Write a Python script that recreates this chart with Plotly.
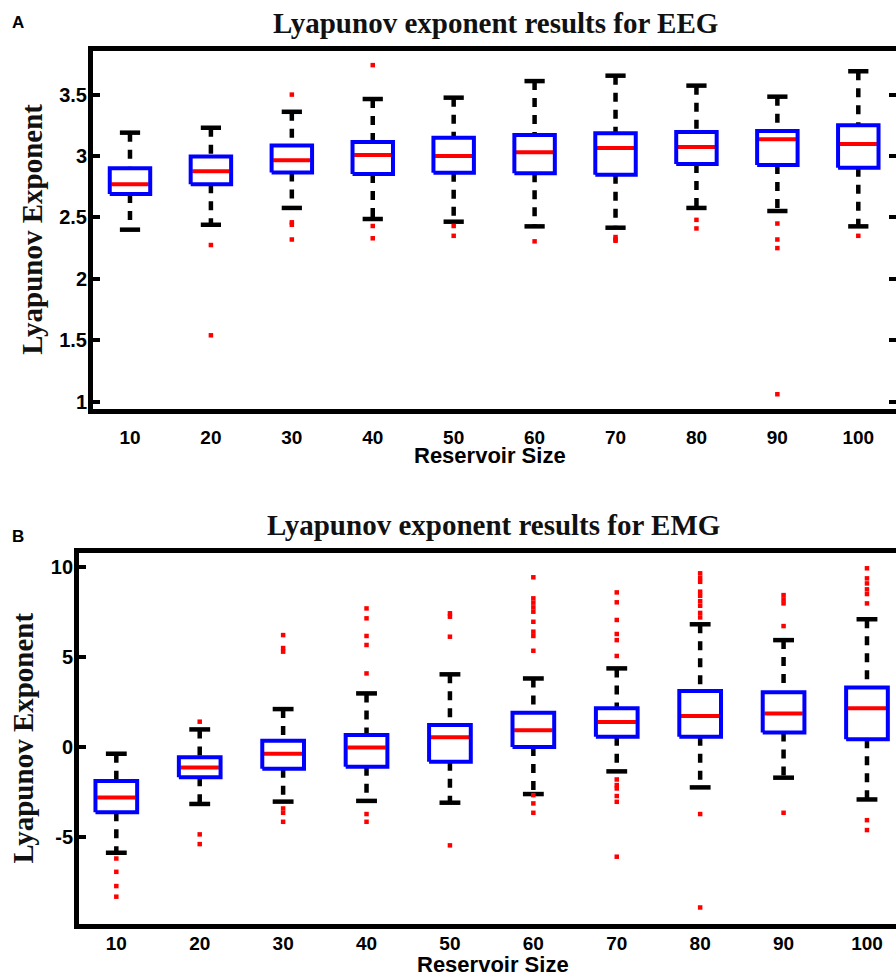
import plotly.graph_objects as go

# Reservoir sizes (box positions) and tick labels
sizes = [10, 20, 30, 40, 50, 60, 70, 80, 90, 100]
size_labels = [str(s) for s in sizes]

# EEG: box statistics per reservoir size
eeg_q1 = [2.69, 2.77, 2.865, 2.853, 2.864, 2.859, 2.848, 2.935, 2.927, 2.905]
eeg_median = [2.77, 2.875, 2.965, 3.008, 3.0, 3.03, 3.065, 3.073, 3.136, 3.098]
eeg_q3 = [2.90, 2.995, 3.085, 3.114, 3.149, 3.171, 3.185, 3.195, 3.204, 3.25]
eeg_lower = [2.40, 2.44, 2.577, 2.487, 2.465, 2.427, 2.416, 2.577, 2.552, 2.427]
eeg_upper = [3.19, 3.23, 3.36, 3.464, 3.475, 3.61, 3.654, 3.573, 3.483, 3.69]
eeg_outliers = [
    [],
    [2.275, 1.54],
    [3.50, 2.46, 2.44, 2.32],
    [3.74, 2.43, 2.33],
    [2.43, 2.35],
    [2.305],
    [2.34, 2.32, 2.31],
    [2.48, 2.41],
    [2.45, 2.32, 2.25, 1.06],
    [2.35],
]
eeg_ticks = [1, 1.5, 2, 2.5, 3, 3.5]
eeg_tick_labels = ["1", "1.5", "2", "2.5", "3", "3.5"]

# EMG: box statistics per reservoir size
emg_q1 = [-3.62, -1.68, -1.21, -1.09, -0.81, 0.0, 0.57, 0.57, 0.81, 0.43]
emg_median = [-2.80, -1.13, -0.37, -0.02, 0.54, 0.93, 1.39, 1.72, 1.87, 2.15]
emg_q3 = [-1.89, -0.57, 0.35, 0.67, 1.22, 1.91, 2.15, 3.11, 3.04, 3.31]
emg_lower = [-5.87, -3.16, -3.03, -2.99, -3.09, -2.61, -1.35, -2.24, -1.70, -2.91]
emg_upper = [-0.37, 0.98, 2.11, 2.98, 4.04, 3.81, 4.37, 6.82, 5.94, 7.10]
emg_outliers = [
    [-6.19, -6.93, -7.72, -8.31],
    [1.41, -4.85, -5.39],
    [6.22, 5.5, 5.3, -3.41, -3.65, -4.15],
    [7.7, 7.15, 6.17, 5.67, 4.09, -3.72, -4.15],
    [7.43, 7.24, 6.13, -5.46],
    [9.43, 8.26, 8.02, 7.76, 7.52, 6.96, 6.41, 6.17, 5.35, -2.67, -3.13, -3.65],
    [8.59, 8.04, 7.06, 6.28, 5.94, 5.06, -1.80, -2.11, -2.30, -2.72, -3.04, -6.09],
    [9.65, 9.4, 9.18, 8.63, 8.4, 8.1, 7.85, 7.45, 7.2, -3.72, -8.91],
    [8.44, 8.2, 7.98, 6.72, -3.65],
    [9.93, 9.37, 9.09, 8.76, 8.5, 7.98, -4.06, -4.61],
]
emg_ticks = [-5, 0, 5, 10]
emg_tick_labels = ["-5", "0", "5", "10"]

BOX_HALF = 2.5   # half box width in x units
CAP_HALF = 1.25  # half whisker-cap width
MED_HALF = 2.3

fig = go.Figure()


def add_boxes(xa, ya, q1, med, q3, lo, hi, outl):
    wx, wy, cx, cy, bx, by, mx, my, ox, oy = ([] for _ in range(10))
    for s, a, m, b, l, h, o in zip(sizes, q1, med, q3, lo, hi, outl):
        wx += [s, s, None, s, s, None]
        wy += [h, b, None, a, l, None]
        cx += [s - CAP_HALF, s + CAP_HALF, None, s - CAP_HALF, s + CAP_HALF, None]
        cy += [h, h, None, l, l, None]
        bx += [s - BOX_HALF, s + BOX_HALF, s + BOX_HALF, s - BOX_HALF, s - BOX_HALF, None]
        by += [a, a, b, b, a, None]
        mx += [s - MED_HALF, s + MED_HALF, None]
        my += [m, m, None]
        ox += [s] * len(o)
        oy += list(o)
    common = dict(xaxis=xa, yaxis=ya, showlegend=False, hoverinfo="skip")
    fig.add_trace(go.Scatter(x=wx, y=wy, mode="lines",
                             line=dict(color="black", width=4.5, dash="9px,8px"), **common))
    fig.add_trace(go.Scatter(x=cx, y=cy, mode="lines",
                             line=dict(color="black", width=4.5), **common))
    fig.add_trace(go.Scatter(x=mx, y=my, mode="lines",
                             line=dict(color="#ff0000", width=4), **common))
    fig.add_trace(go.Scatter(x=bx, y=by, mode="lines",
                             line=dict(color="#0000ff", width=4), **common))
    fig.add_trace(go.Scatter(x=ox, y=oy, mode="markers",
                             marker=dict(color="#ff0000", symbol="square", size=4.5,
                                         line=dict(width=0)), **common))


add_boxes("x", "y", eeg_q1, eeg_median, eeg_q3, eeg_lower, eeg_upper, eeg_outliers)
add_boxes("x2", "y2", emg_q1, emg_median, emg_q3, emg_lower, emg_upper, emg_outliers)

# transparent companion trace so the right-hand tick axis of the EEG panel is rendered
fig.add_trace(go.Scatter(x=sizes[:1], y=eeg_median[:1], xaxis="x", yaxis="y3", mode="markers",
                         marker=dict(opacity=0), showlegend=False, hoverinfo="skip"))

xtick_font = dict(family="Liberation Sans, Arial", size=19, color="black", weight="bold")
ytick_font = dict(family="Liberation Sans, Arial", size=20, color="black", weight="bold")
serif_font = dict(family="Liberation Serif, Times New Roman", size=29, color="#111111", weight="bold")
sans_label = dict(family="Liberation Sans, Arial", size=22, color="black", weight="bold")
letter_font = dict(family="Liberation Sans, Arial", size=17, color="black", weight="bold")

xcommon = dict(tickmode="array", tickvals=sizes, ticktext=size_labels, ticks="",
               showline=True, linewidth=5, linecolor="black", mirror=True,
               showgrid=False, zeroline=False, tickfont=xtick_font, automargin=False)
ycommon = dict(tickmode="array", ticks="inside", ticklen=7, tickwidth=4, tickcolor="black",
               showline=True, linewidth=5, linecolor="black", mirror=False,
               showgrid=False, zeroline=False, tickfont=ytick_font, automargin=False)

fig.update_layout(
    width=896, height=977,
    margin=dict(l=0, r=0, t=0, b=0),
    paper_bgcolor="white", plot_bgcolor="white",
    template="none",
    xaxis=dict(domain=[0.1038, 1.0], anchor="y", range=[5.43, 104.66],
               ticklabelstandoff=7, **xcommon),
    yaxis=dict(domain=[0.5814, 0.9478], anchor="x", range=[0.940, 3.855],
               tickvals=eeg_ticks, ticktext=eeg_tick_labels, ticklabelstandoff=-3, **ycommon),
    yaxis3=dict(overlaying="y", anchor="x", side="right", range=[0.940, 3.855],
                tickmode="array", tickvals=eeg_ticks, ticks="inside", ticklen=7, tickwidth=4,
                tickcolor="black", showticklabels=False, showline=False, showgrid=False,
                zeroline=False, automargin=False),
    xaxis2=dict(domain=[0.0882, 1.0], anchor="y2", range=[5.53, 103.48],
                ticklabelstandoff=-2, **xcommon),
    yaxis2=dict(domain=[0.0542, 0.4340], anchor="x2", range=[-9.83, 10.78],
                tickvals=emg_ticks, ticktext=emg_tick_labels, ticklabelstandoff=-3, **ycommon),
)

annotations = [
    dict(text="Lyapunov exponent results for EEG", x=0.553, y=1 - 22.5 / 977, font=serif_font),
    dict(text="Lyapunov exponent results for EMG", x=0.5506, y=1 - 525 / 977, font=serif_font),
    dict(text="Lyapunov Exponent", x=31.7 / 896, y=1 - 229 / 977, textangle=-90, font=serif_font),
    dict(text="Lyapunov Exponent", x=22.5 / 896, y=1 - 738 / 977, textangle=-90, font=serif_font),
    dict(text="Reservoir Size", x=490 / 896, y=1 - 455 / 977, font=sans_label),
    dict(text="Reservoir Size", x=493 / 896, y=1 - 964.5 / 977, font=sans_label),
    dict(text="A", x=18.3 / 896, y=1 - 22.5 / 977, font=letter_font),
    dict(text="B", x=18.3 / 896, y=1 - 536.7 / 977, font=letter_font),
]
for a in annotations:
    fig.add_annotation(xref="paper", yref="paper", showarrow=False,
                       xanchor="center", yanchor="middle", **a)

fig.write_html("out.html")
